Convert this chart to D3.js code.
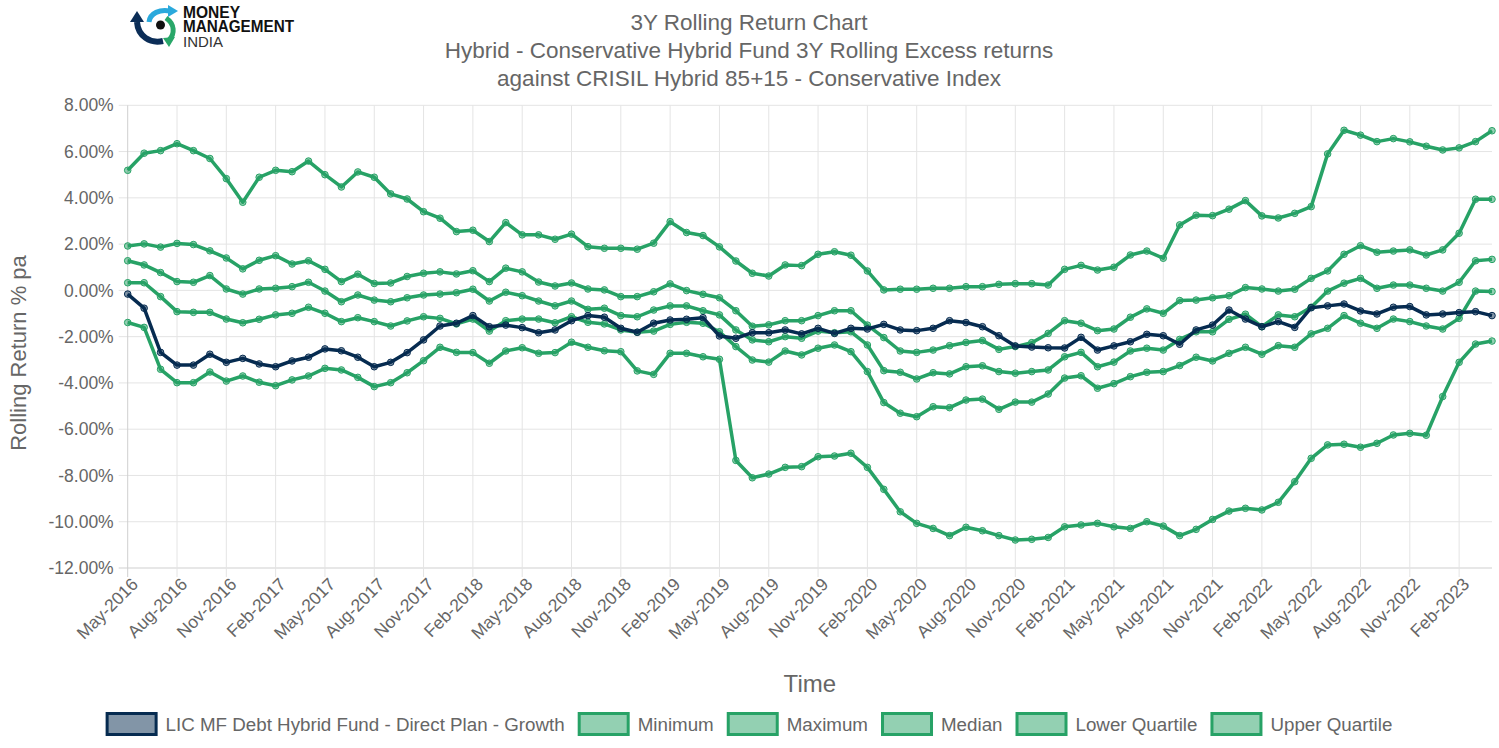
<!DOCTYPE html>
<html><head><meta charset="utf-8">
<script src="https://cdn.jsdelivr.net/npm/d3@7"></script>
<style>
body{margin:0;background:#fff;}
text{font-family:"Liberation Sans",Arial,Helvetica,sans-serif;}
</style></head><body>
<svg id="c" width="1499" height="748"></svg>
<script>
const categories = [
"May-2016","Jun-2016","Jul-2016","Aug-2016","Sep-2016","Oct-2016","Nov-2016","Dec-2016",
"Jan-2017","Feb-2017","Mar-2017","Apr-2017","May-2017","Jun-2017","Jul-2017","Aug-2017","Sep-2017","Oct-2017","Nov-2017","Dec-2017",
"Jan-2018","Feb-2018","Mar-2018","Apr-2018","May-2018","Jun-2018","Jul-2018","Aug-2018","Sep-2018","Oct-2018","Nov-2018","Dec-2018",
"Jan-2019","Feb-2019","Mar-2019","Apr-2019","May-2019","Jun-2019","Jul-2019","Aug-2019","Sep-2019","Oct-2019","Nov-2019","Dec-2019",
"Jan-2020","Feb-2020","Mar-2020","Apr-2020","May-2020","Jun-2020","Jul-2020","Aug-2020","Sep-2020","Oct-2020","Nov-2020","Dec-2020",
"Jan-2021","Feb-2021","Mar-2021","Apr-2021","May-2021","Jun-2021","Jul-2021","Aug-2021","Sep-2021","Oct-2021","Nov-2021","Dec-2021",
"Jan-2022","Feb-2022","Mar-2022","Apr-2022","May-2022","Jun-2022","Jul-2022","Aug-2022","Sep-2022","Oct-2022","Nov-2022","Dec-2022",
"Jan-2023","Feb-2023","Mar-2023","Apr-2023"];

const fundValues = [
-0.16,-0.77,-2.68,-3.23,-3.23,-2.76,-3.11,-2.94,-3.18,-3.30,-3.05,-2.89,-2.53,-2.61,-2.89,-3.30,-3.11,-2.69,-2.14,-1.54,
-1.42,-1.09,-1.57,-1.50,-1.61,-1.83,-1.71,-1.31,-1.09,-1.16,-1.64,-1.81,-1.42,-1.28,-1.25,-1.18,-1.97,-2.07,-1.83,-1.83,
-1.71,-1.88,-1.64,-1.86,-1.64,-1.67,-1.47,-1.71,-1.74,-1.64,-1.31,-1.39,-1.57,-1.96,-2.40,-2.45,-2.48,-2.49,-2.03,-2.58,
-2.40,-2.22,-1.90,-1.96,-2.33,-1.71,-1.50,-0.85,-1.24,-1.57,-1.35,-1.60,-0.75,-0.67,-0.59,-0.89,-1.02,-0.73,-0.70,-1.06,-1.02,-0.96,-0.92,-1.09];

const minimumValues = [
-1.39,-1.60,-3.41,-3.99,-3.99,-3.53,-3.92,-3.70,-3.97,-4.12,-3.87,-3.70,-3.37,-3.44,-3.76,-4.16,-3.99,-3.56,-3.04,-2.46,
-2.68,-2.69,-3.15,-2.62,-2.48,-2.72,-2.69,-2.24,-2.46,-2.61,-2.65,-3.48,-3.63,-2.72,-2.72,-2.87,-2.98,-7.35,-8.10,-7.94,
-7.65,-7.62,-7.19,-7.16,-7.04,-7.65,-8.60,-9.57,-10.07,-10.29,-10.60,-10.24,-10.39,-10.60,-10.79,-10.76,-10.68,-10.22,-10.14,-10.07,
-10.22,-10.29,-10.00,-10.19,-10.60,-10.33,-9.90,-9.54,-9.42,-9.49,-9.16,-8.27,-7.26,-6.68,-6.65,-6.78,-6.61,-6.25,-6.18,-6.26,-4.59,-3.11,-2.32,-2.19];

const maximumValues = [
5.19,5.93,6.04,6.34,6.04,5.70,4.83,3.81,4.89,5.19,5.13,5.59,5.00,4.47,5.12,4.89,4.17,3.95,3.40,3.12,
2.54,2.60,2.11,2.93,2.40,2.40,2.21,2.43,1.89,1.82,1.82,1.78,2.04,2.97,2.50,2.37,1.88,1.27,0.74,0.62,
1.10,1.07,1.56,1.67,1.52,0.84,0.02,0.05,0.05,0.09,0.09,0.16,0.16,0.26,0.29,0.29,0.23,0.91,1.08,0.88,
1.00,1.53,1.70,1.39,2.83,3.25,3.23,3.51,3.88,3.22,3.13,3.33,3.62,5.90,6.92,6.71,6.43,6.56,6.42,6.23,6.07,6.16,6.43,6.90];

const medianValues = [
1.28,1.10,0.77,0.38,0.35,0.64,0.06,-0.16,0.06,0.09,0.16,0.35,-0.03,-0.49,-0.20,-0.42,-0.49,-0.32,-0.20,-0.16,
-0.10,0.05,-0.46,-0.08,-0.23,-0.46,-0.67,-0.46,-0.82,-0.77,-1.09,-1.14,-0.85,-0.67,-0.67,-0.88,-1.06,-1.71,-2.14,-2.22,
-2.00,-2.07,-1.76,-1.83,-1.79,-2.36,-3.47,-3.54,-3.83,-3.56,-3.61,-3.30,-3.26,-3.51,-3.58,-3.51,-3.44,-2.87,-2.68,-3.30,
-3.10,-2.62,-2.50,-2.58,-2.12,-1.79,-1.79,-1.25,-1.03,-1.57,-1.06,-1.14,-0.73,-0.03,0.31,0.52,0.09,0.23,0.23,0.09,-0.03,0.35,1.28,1.34];

const lowerQuartileValues = [
0.33,0.33,-0.27,-0.92,-0.95,-0.95,-1.24,-1.40,-1.25,-1.06,-0.99,-0.73,-0.99,-1.35,-1.18,-1.35,-1.54,-1.32,-1.14,-1.21,
-1.45,-1.24,-1.76,-1.31,-1.24,-1.24,-1.40,-1.14,-1.38,-1.45,-1.71,-1.81,-1.76,-1.47,-1.38,-1.42,-1.79,-2.43,-3.01,-3.10,
-2.62,-2.79,-2.50,-2.36,-2.65,-3.51,-4.85,-5.31,-5.46,-5.03,-5.07,-4.74,-4.70,-5.14,-4.83,-4.83,-4.48,-3.79,-3.69,-4.23,
-4.03,-3.73,-3.54,-3.51,-3.25,-2.89,-3.05,-2.72,-2.46,-2.76,-2.39,-2.46,-1.88,-1.64,-1.09,-1.42,-1.64,-1.24,-1.35,-1.54,-1.67,-1.21,-0.03,-0.05];

const upperQuartileValues = [
1.92,2.01,1.87,2.03,1.98,1.71,1.40,0.93,1.30,1.50,1.14,1.28,0.91,0.38,0.70,0.30,0.32,0.60,0.74,0.80,
0.71,0.85,0.38,0.96,0.80,0.36,0.19,0.32,0.06,0.02,-0.27,-0.27,-0.06,0.28,-0.01,-0.17,-0.32,-0.88,-1.55,-1.49,
-1.31,-1.31,-1.09,-0.88,-0.88,-1.50,-2.04,-2.62,-2.68,-2.58,-2.39,-2.25,-2.17,-2.55,-2.43,-2.26,-1.86,-1.31,-1.42,-1.74,
-1.67,-1.16,-0.80,-0.99,-0.44,-0.42,-0.32,-0.23,0.12,0.06,-0.03,0.05,0.52,0.84,1.56,1.93,1.65,1.70,1.75,1.53,1.75,2.47,3.94,3.94];

const seriesNames = ["LIC MF Debt Hybrid Fund - Direct Plan - Growth","Minimum","Maximum","Median","Lower Quartile","Upper Quartile"];
const yTickValues = [-12,-10,-8,-6,-4,-2,0,2,4,6,8];
const titleLines = ["3Y Rolling Return Chart","Hybrid - Conservative Hybrid Fund 3Y Rolling Excess returns","against CRISIL Hybrid 85+15 - Conservative Index"];
const xTitle = "Time";
const yTitle = "Rolling Return % pa";

const NAVY = "#062b50", NAVY_FILL = "rgba(6,43,80,0.5)";
const GREEN = "#27a266", GREEN_FILL = "rgba(39,162,102,0.5)";

const seriesList = [
  {name: seriesNames[0], values: fundValues, color: NAVY, fill: NAVY_FILL},
  {name: seriesNames[1], values: minimumValues, color: GREEN, fill: GREEN_FILL},
  {name: seriesNames[2], values: maximumValues, color: GREEN, fill: GREEN_FILL},
  {name: seriesNames[3], values: medianValues, color: GREEN, fill: GREEN_FILL},
  {name: seriesNames[4], values: lowerQuartileValues, color: GREEN, fill: GREEN_FILL},
  {name: seriesNames[5], values: upperQuartileValues, color: GREEN, fill: GREEN_FILL}
];

const svg = d3.select("#c");
const L = 127.7, R = 1492, T = 105.3, B = 568;
const x = d3.scalePoint().domain(categories).range([L, R]).padding(0);
const y = d3.scaleLinear().domain([-12, 8]).range([B, T]);
const TEXT = "#666";

// grid
const g = svg.append("g");
const xTickCats = categories.filter((d, i) => i % 3 === 0);
g.selectAll("line.hg").data(yTickValues).join("line")
  .attr("x1", L - 9).attr("x2", R).attr("y1", d => y(d)).attr("y2", d => y(d))
  .attr("stroke", d => d === -12 ? "#cfcfcf" : "#e4e4e4").attr("stroke-width", 1);
g.selectAll("line.vg").data(xTickCats).join("line")
  .attr("x1", d => x(d)).attr("x2", d => x(d)).attr("y1", T).attr("y2", B + 9)
  .attr("stroke", (d, i) => i === 0 ? "#cfcfcf" : "#e4e4e4").attr("stroke-width", 1);

// y tick labels
svg.selectAll("text.yt").data(yTickValues).join("text")
  .attr("x", L - 14).attr("y", d => y(d)).attr("dy", "0.35em")
  .attr("text-anchor", "end").attr("fill", TEXT).attr("font-size", 17.5)
  .text(d => d.toFixed(2) + "%");

// x tick labels
svg.selectAll("text.xt").data(xTickCats).join("text")
  .attr("transform", d => `translate(${x(d) + 7},${B + 13}) rotate(-45)`)
  .attr("dy", "0.35em")
  .attr("text-anchor", "end").attr("fill", TEXT).attr("font-size", 17.5)
  .text(d => d);

// axis titles
svg.append("text").attr("x", (L + R) / 2).attr("y", 692).attr("text-anchor", "middle")
  .attr("fill", TEXT).attr("font-size", 24).text(xTitle);
svg.append("text").attr("transform", `translate(26,353) rotate(-90)`)
  .attr("text-anchor", "middle").attr("fill", TEXT).attr("font-size", 22).text(yTitle);

// title
svg.selectAll("text.title").data(titleLines).join("text")
  .attr("x", 749).attr("y", (d, i) => 30 + i * 28).attr("text-anchor", "middle")
  .attr("fill", TEXT).attr("font-size", 22.5).text(d => d);

// lines
const line = d3.line().x((d, i) => x(categories[i])).y(d => y(d));
const drawOrder = seriesList.slice().reverse();
drawOrder.forEach(s => {
  const sg = svg.append("g");
  sg.append("path").datum(s.values).attr("d", line)
    .attr("fill", "none").attr("stroke", s.color).attr("stroke-width", 3.5)
    .attr("stroke-linejoin", "round");
  sg.selectAll("circle").data(s.values).join("circle")
    .attr("cx", (d, i) => x(categories[i])).attr("cy", d => y(d)).attr("r", 3.3)
    .attr("fill", s.fill).attr("stroke", s.color).attr("stroke-width", 1);
});

// legend
const lg = svg.append("g");
const boxW = 52, boxH = 21, gapText = 8, gapItem = 13;
const items = seriesList.map(s => {
  const t = lg.append("text").attr("font-size", 18.75).attr("fill", TEXT).attr("dy", "0.35em").text(s.name);
  return {s, t, w: t.node().getComputedTextLength()};
});
const total = d3.sum(items, d => boxW + gapText + d.w) + gapItem * (items.length - 1);
let cx = 749 - total / 2;
const ly = 724;
items.forEach(it => {
  lg.append("rect").attr("x", cx + 1.5).attr("y", ly - boxH / 2).attr("width", boxW - 3).attr("height", boxH)
    .attr("fill", it.s.fill).attr("stroke", it.s.color).attr("stroke-width", 3);
  it.t.attr("x", cx + boxW + gapText).attr("y", ly);
  cx += boxW + gapText + it.w + gapItem;
});

// logo
const logo = svg.append("g");
logo.append("path").attr("d", "M163 41 C150 44 138 36 137 22").attr("fill", "none").attr("stroke", "#0b2d57").attr("stroke-width", 6);
logo.append("path").attr("d", "M130 22 L137 11 L144 22 Z").attr("fill", "#0b2d57");
logo.append("path").attr("d", "M149 22 C150 13 160 9 170 11").attr("fill", "none").attr("stroke", "#2aa9dc").attr("stroke-width", 5);
logo.append("path").attr("d", "M168 5 L178 11 L168 17 Z").attr("fill", "#2aa9dc");
logo.append("path").attr("d", "M166 18 C175 24 175 34 169 40").attr("fill", "none").attr("stroke", "#29a769").attr("stroke-width", 5);
logo.append("path").attr("d", "M163 38 L169 47 L175 37 Z").attr("fill", "#29a769");
logo.append("circle").attr("cx", 160.5).attr("cy", 25).attr("r", 4.5).attr("fill", "#111");
logo.append("text").attr("x", 183).attr("y", 17.5).attr("font-size", 16).attr("font-weight", "bold").attr("fill", "#111")
  .attr("textLength", 57).attr("lengthAdjust", "spacingAndGlyphs").text("MONEY");
logo.append("text").attr("x", 183).attr("y", 32).attr("font-size", 16).attr("font-weight", "bold").attr("fill", "#111")
  .attr("textLength", 111).attr("lengthAdjust", "spacingAndGlyphs").text("MANAGEMENT");
logo.append("text").attr("x", 183).attr("y", 46.5).attr("font-size", 15.5).attr("fill", "#333")
  .attr("textLength", 40).attr("lengthAdjust", "spacingAndGlyphs").text("INDIA");
</script>
</body></html>
